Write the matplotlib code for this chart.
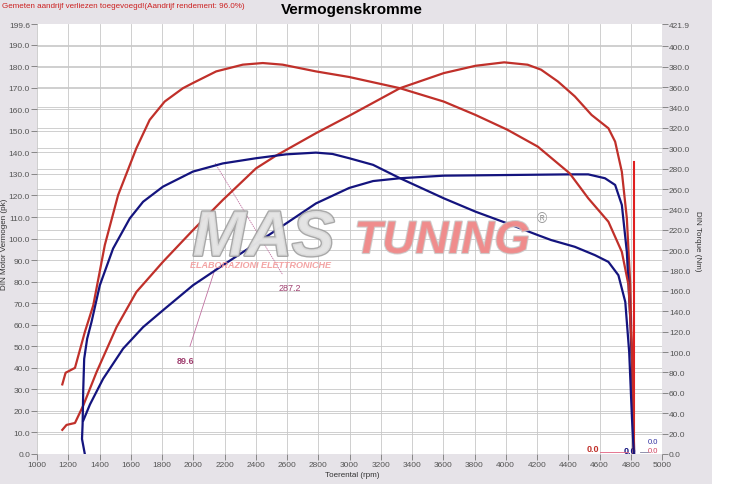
#!/usr/bin/env python3
import matplotlib as mpl
mpl.use('Agg')

import matplotlib.pyplot as plt
import matplotlib.patheffects as pe
from matplotlib.patches import Rectangle

plt.rcParams['font.family'] = ['Liberation Sans', 'DejaVu Sans']

# tuned torque (Nm, right axis)
red_tq_rpm = [1162, 1183, 1243, 1306, 1360, 1434, 1519, 1636, 1721, 1817, 1934, 1998,
              2147, 2317, 2445, 2572, 2785, 2998, 3323, 3603, 3806, 4011, 4205, 4409,
              4528, 4657, 4743, 4786, 4808, 4820]
red_tq = [68.3, 79.7, 84.5, 119.6, 145.8, 205.0, 254.0, 300.0, 327.8, 345.8, 358.9, 364.0,
          375.4, 382.0, 383.6, 382.0, 375.4, 369.9, 358.9, 345.8, 332.7, 318.1, 301.6, 275.4,
          250.9, 227.9, 198.3, 165.5, 100.0, 0.0]

# stock torque (Nm, right axis)
blue_tq_rpm = [1306, 1288, 1292, 1296, 1302, 1321, 1349, 1402, 1487, 1594, 1679, 1806,
               1998, 2189, 2402, 2594, 2785, 2891, 2998, 3151, 3323, 3603, 3806, 4011,
               4205, 4291, 4442, 4571, 4657, 4721, 4765, 4790, 4808, 4820]
blue_tq = [0.0, 14.8, 29.6, 63.4, 93.4, 113.1, 129.6, 165.5, 201.6, 231.2, 247.5, 262.3,
           277.1, 285.1, 290.2, 294.0, 295.7, 294.4, 290.2, 283.7, 270.6, 250.9, 237.8, 226.2,
           214.8, 209.9, 203.3, 195.1, 188.5, 175.4, 149.2, 100.0, 34.5, 0.0]

# tuned power (pk, left axis)
red_pw_rpm = [1162, 1189, 1243, 1296, 1381, 1509, 1636, 1806, 1998, 2189, 2402, 2530,
              2785, 2998, 3323, 3603, 3806, 3990, 4140, 4226, 4334, 4442, 4549, 4657,
              4700, 4743, 4775, 4797, 4812, 4820]
red_pw = [11.2, 13.5, 14.4, 22.5, 38.0, 58.9, 75.2, 89.2, 103.9, 117.9, 132.6, 138.5,
          148.9, 157.0, 169.8, 176.8, 180.2, 181.8, 180.7, 178.4, 172.9, 166.0, 157.4, 151.2,
          145.0, 131.0, 109.4, 78.3, 31.8, 0.0]

# stock power (pk, left axis)
blue_pw_rpm = [1296, 1339, 1423, 1551, 1679, 1806, 1998, 2189, 2402, 2594, 2785, 2998,
               3151, 3323, 3603, 4011, 4409, 4528, 4635, 4700, 4743, 4775, 4797, 4812, 4822]
blue_pw = [15.5, 23.0, 34.9, 48.9, 58.9, 66.7, 78.3, 87.6, 97.7, 107.0, 116.3, 123.5,
           126.7, 128.0, 129.2, 129.5, 129.8, 129.8, 128.0, 124.9, 115.6, 93.8, 62.8, 31.8, 0.0]

cursor_rpm = 4818
cursor_top = 135.7

left_ticks = [i * 10.0 for i in range(20)] + [199.6]
right_ticks = [i * 20.0 for i in range(21)] + [421.9]
x_ticks = list(range(1000, 5001, 200))

RED = '#c0302a'
BLUE = '#14147e'
GRID = '#c8c8c8'
LBL = '#555555'

fig = plt.figure(figsize=(7.35, 4.89), dpi=100, facecolor='#e6e3e8')
# white strips right and bottom of the gray panel
fig.patches.append(Rectangle((712 / 735, 0), 23 / 735, 1, transform=fig.transFigure,
                             facecolor='white', edgecolor='none', zorder=-10))
fig.patches.append(Rectangle((0, 0), 1, 4 / 489, transform=fig.transFigure,
                             facecolor='white', edgecolor='none', zorder=-10))

ax = fig.add_axes([37 / 735, 34 / 489, 625 / 735, 430 / 489])
ax.set_facecolor('white')
ax2 = ax.twinx()

ax.set_xlim(1000, 5000)
ax.set_ylim(0, 199.6)
ax2.set_ylim(0, 421.9)

# grids: x every 200, left every 10, right every 20
for x in x_ticks:
    ax.axvline(x, color=GRID, lw=0.6, zorder=0)
for y in left_ticks[:-1]:
    ax.axhline(y, color=GRID, lw=0.6, zorder=0)
for y in right_ticks[:-1]:
    ax.axhline(y * 199.6 / 421.9, color=GRID, lw=0.6, zorder=0)

ax.set_xticks(x_ticks)
ax.set_xticklabels([str(x) for x in x_ticks])
ax.set_yticks(left_ticks)
ax.set_yticklabels(['%.1f' % v for v in left_ticks])
ax2.set_yticks(right_ticks)
ax2.set_yticklabels(['%.1f' % v for v in right_ticks])
for a in (ax, ax2):
    a.tick_params(labelsize=6, labelcolor=LBL, color='#777777', length=4, width=0.6, pad=1)
    for s in a.spines.values():
        s.set_visible(False)

# watermark
fig.text(0.262, 0.51, 'MAS', fontsize=46, fontweight='bold', style='italic',
         color='#e4e4e4', alpha=0.85, ha='left', va='center',
         path_effects=[pe.withStroke(linewidth=2, foreground='#9a9a9a')])
fig.text(0.482, 0.505, 'TUNING', fontsize=33, fontweight='bold', style='italic',
         color='#f08a8a', alpha=0.85, ha='left', va='center',
         path_effects=[pe.withStroke(linewidth=1.5, foreground='#c8c8c8')])
fig.text(0.258, 0.458, 'ELABORAZIONI ELETTRONICHE', fontsize=6.5, fontweight='bold', style='italic',
         color='#f29a9a', alpha=0.9, ha='left', va='center')
fig.text(0.737, 0.553, '\u00ae', fontsize=10, color='#999999', ha='center', va='center')

# curves
ax2.plot(red_tq_rpm, red_tq, color=RED, lw=1.6, zorder=5)
ax2.plot(blue_tq_rpm, blue_tq, color=BLUE, lw=1.6, zorder=5)
ax.plot(red_pw_rpm, red_pw, color=RED, lw=1.6, zorder=5)
ax.plot(blue_pw_rpm, blue_pw, color=BLUE, lw=1.6, zorder=5)
ax.plot([cursor_rpm, cursor_rpm], [0, cursor_top], color='#e02020', lw=1.5, zorder=6)

# value labels
ax.annotate('89.6', xy=(2140, 86), xytext=(1950, 43.5), fontsize=6.5, fontweight='bold',
            color='#a04070', ha='center', va='center',
            arrowprops=dict(arrowstyle='-', color='#c070a0', lw=0.6, shrinkA=5, shrinkB=0))
ax.annotate('287.2', xy=(2140, 135), xytext=(2620, 77.5), fontsize=6.5,
            color='#a04070', ha='center', va='center',
            arrowprops=dict(arrowstyle='-', color='#c070a0', lw=0.6, ls=':', shrinkA=5, shrinkB=0))
ax.plot([4600, 4780], [0.9, 0.9], color='#e06080', lw=0.6, zorder=4)
ax.plot([4860, 4910], [0.9, 0.9], color='#8080a0', lw=0.6, zorder=4)
ax.text(4555, 2.4, '0.0', fontsize=6.5, fontweight='bold', color=RED, ha='center', va='center')
ax.text(4795, 1.4, '0.0', fontsize=6.5, fontweight='bold', color=BLUE, ha='center', va='center')
ax.text(4940, 5.6, '0.0', fontsize=5.5, color='#3030a0', ha='center', va='center')
ax.text(4940, 1.4, '0.0', fontsize=5.5, color='#d04060', ha='center', va='center')

# titles and axis labels
fig.text(352 / 735, 1 - 10 / 489, 'Vermogenskromme', fontsize=11, fontweight='bold',
         ha='center', va='center', color='black')
fig.text(2 / 735, 1 - 7 / 489, 'Gemeten aandrijf verliezen toegevoegd!(Aandrijf rendement: 96.0%)',
         fontsize=5.8, color='#cc2020', ha='left', va='center')
fig.text(352 / 735, 1 - 476 / 489, 'Toerental (rpm)', fontsize=5.8, color='#333333',
         ha='center', va='center')
fig.text(5 / 735, 1 - 244 / 489, 'DIN Motor Vermogen (pk)', fontsize=5.8, color='#333333',
         rotation=90, ha='center', va='center')
fig.text(697 / 735, 1 - 241 / 489, 'DIN Torque (Nm)', fontsize=5.8, color='#333333',
         rotation=270, ha='center', va='center')

plt.savefig('out.png', dpi=100, facecolor=fig.get_facecolor())
plt.close()
